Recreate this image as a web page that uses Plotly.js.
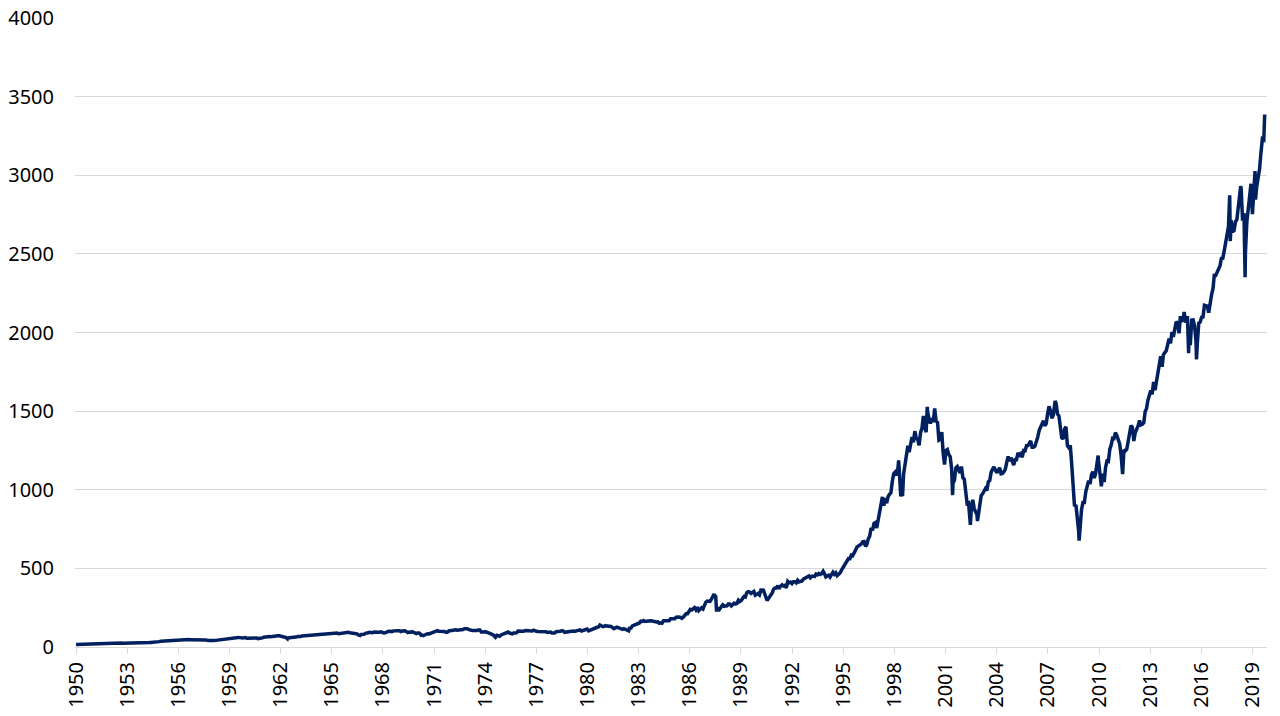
<!DOCTYPE html>
<html>
<head>
<meta charset="utf-8">
<script src="https://cdn.plot.ly/plotly-3.0.1.min.js"></script>
<style>
html,body{margin:0;padding:0;background:#fff;}
#chart{width:1280px;height:716px;}
</style>
</head>
<body>
<div id="chart"></div>
<script>
// Approximate month-end index levels (Jan..Dec per year)
const sp1950s = [
17.05,17.22,17.29,18.07,18.78,17.69,17.84,18.42,19.45,19.53,19.51,20.41,
21.66,21.80,21.40,22.43,21.52,20.96,22.40,23.28,23.26,22.94,22.88,23.77,
24.14,23.26,24.37,23.32,23.86,24.96,25.40,25.03,24.54,24.52,25.66,26.57,
26.38,25.90,25.29,24.62,24.54,24.14,24.75,23.32,23.35,24.54,24.76,24.81,
26.08,26.15,26.94,28.26,29.19,29.21,30.88,29.83,32.31,31.68,34.24,35.98,
36.63,36.76,36.58,37.96,37.91,41.03,43.52,43.18,43.67,42.34,45.51,45.48,
43.82,45.34,48.48,48.38,45.20,46.97,49.39,47.51,45.35,45.58,45.08,46.67,
44.72,43.26,44.11,45.74,47.43,47.37,47.91,45.22,42.42,41.06,41.72,39.99,
41.70,40.84,42.10,43.44,44.09,45.24,47.19,47.75,50.06,51.33,52.48,55.21,
55.42,55.41,55.44,57.59,58.68,58.47,60.51,59.60,56.88,57.52,58.28,59.89];
const sp1960s = [
55.61,56.12,55.34,54.37,55.83,56.92,55.51,56.96,53.52,53.39,55.54,58.11,
61.78,63.44,65.06,65.31,66.56,64.64,66.76,68.07,66.73,68.62,71.32,71.55,
68.84,69.96,69.55,65.24,59.63,54.75,58.23,59.12,56.27,56.52,62.26,63.10,
66.20,64.29,66.57,69.80,70.80,69.37,69.13,72.50,71.70,74.01,73.23,75.02,
77.04,77.80,78.98,79.46,80.37,81.69,83.18,81.83,84.18,84.86,84.42,84.75,
87.56,87.43,86.16,89.11,88.42,84.12,85.25,87.17,89.96,92.42,91.61,92.43,
92.88,91.22,89.23,91.06,86.13,84.74,83.60,77.10,76.56,80.20,80.45,80.33,
86.61,86.78,90.20,94.01,89.08,90.64,94.75,93.64,96.71,93.30,94.00,96.47,
92.24,89.36,90.20,97.59,98.68,99.58,97.74,98.86,102.67,103.41,108.37,103.86,
103.01,98.13,101.51,103.69,103.46,97.71,91.83,95.51,93.12,97.24,93.81,92.06];
const sp1970s = [
85.02,89.50,89.63,81.52,76.55,72.72,78.05,81.52,84.21,83.25,87.20,92.15,
95.88,96.75,100.31,103.95,99.63,99.70,95.58,99.03,98.34,94.23,93.99,102.09,
103.94,106.57,107.20,107.67,109.53,107.14,107.39,111.09,110.55,111.58,116.67,118.05,
116.03,111.68,111.52,106.97,104.95,104.26,108.22,104.25,108.43,108.29,95.96,97.55,
96.57,96.22,93.98,90.31,87.28,86.00,79.31,72.15,63.54,73.90,69.97,68.56,
76.98,81.59,83.36,87.30,91.15,95.19,88.75,86.88,83.87,89.04,91.24,90.19,
100.86,99.71,102.77,101.64,100.18,104.28,103.44,102.91,105.24,102.90,102.10,107.46,
102.03,99.82,98.42,98.44,96.12,100.48,98.85,96.77,96.53,92.34,94.83,95.10,
89.25,87.04,89.21,96.83,97.24,95.53,100.68,103.29,102.54,93.15,94.70,96.11,
99.93,96.28,101.59,101.76,99.08,102.91,103.81,109.32,109.32,101.82,106.16,107.94];
const sp1980s = [
114.16,113.66,102.09,106.29,111.24,114.24,121.67,122.38,125.46,127.47,140.52,135.76,
129.55,131.27,136.00,132.81,132.59,131.21,130.92,122.79,116.18,121.89,126.35,122.55,
120.40,113.11,111.96,116.44,111.88,109.61,107.09,119.51,120.42,133.71,138.54,140.64,
145.30,148.06,152.96,164.42,162.39,168.11,162.56,164.40,166.07,163.55,166.40,164.93,
163.41,157.06,159.18,160.05,150.55,153.18,150.66,166.68,166.10,166.09,163.58,167.24,
179.63,181.18,180.66,179.83,189.55,191.85,190.92,188.63,182.08,189.82,202.17,211.28,
211.78,226.92,238.90,235.52,247.35,250.84,236.12,252.93,231.32,243.98,249.22,242.17,
274.08,284.20,291.70,288.36,290.10,304.00,318.66,329.80,321.83,251.79,230.30,247.08,
257.07,267.82,258.89,261.33,262.16,273.50,272.02,261.52,271.91,278.97,273.70,277.72,
297.47,288.86,294.87,309.64,320.52,317.98,346.08,351.45,349.15,340.36,345.99,353.40];
const sp1990s = [
329.08,331.89,339.94,330.80,361.23,358.02,356.15,322.56,306.05,304.00,322.22,330.22,
343.93,367.07,375.22,375.34,389.83,371.16,387.81,395.43,387.86,392.46,375.22,417.09,
408.79,412.70,403.69,414.95,415.35,408.14,424.21,414.03,417.80,418.68,431.35,435.71,
438.78,443.38,451.67,440.19,450.19,450.53,448.13,463.56,458.93,467.83,461.79,466.45,
481.61,467.14,445.77,450.91,456.50,444.27,458.26,475.49,462.69,472.35,453.69,459.27,
470.42,487.39,500.71,514.71,533.40,544.75,562.06,561.88,584.41,581.50,605.37,615.93,
636.02,640.43,645.50,654.17,669.12,670.63,639.95,651.99,687.33,705.27,757.02,740.74,
786.16,790.82,757.12,801.34,848.28,885.14,954.31,899.47,947.28,914.62,955.40,970.43,
980.28,1049.34,1101.75,1111.75,1090.82,1133.84,1120.67,957.28,1017.01,1098.67,1163.63,1229.23,
1279.64,1238.33,1286.37,1335.18,1301.84,1372.71,1328.72,1320.41,1282.71,1362.93,1388.91,1469.25];
const sp2000s = [
1394.46,1366.42,1498.58,1452.43,1420.60,1454.60,1430.83,1517.68,1436.51,1429.40,1315.23,1320.28,
1366.01,1239.94,1160.33,1249.46,1255.82,1224.38,1211.23,1133.58,1040.94,1059.78,1139.45,1148.08,
1130.20,1106.73,1147.39,1076.92,1067.14,989.82,911.62,916.07,815.28,885.76,936.31,879.82,
855.70,841.15,848.18,916.92,963.59,974.50,990.31,1008.01,995.97,1050.71,1058.20,1111.92,
1131.13,1144.94,1126.21,1107.30,1120.68,1140.84,1101.72,1104.24,1114.58,1130.20,1173.82,1211.92,
1181.27,1203.60,1180.59,1156.85,1191.50,1191.33,1234.18,1220.33,1228.81,1207.01,1249.48,1248.29,
1280.08,1280.66,1294.87,1310.61,1270.09,1270.20,1276.66,1303.82,1335.85,1377.94,1400.63,1418.30,
1438.24,1406.82,1420.86,1482.37,1530.62,1503.35,1455.27,1473.99,1526.75,1549.38,1481.14,1468.36,
1378.55,1330.63,1322.70,1385.59,1400.38,1280.00,1267.38,1282.83,1166.36,968.75,896.24,903.25,
825.88,735.09,797.87,872.81,919.14,919.32,987.48,1020.62,1057.08,1036.19,1095.63,1115.10];
const sp2010s = [
1073.87,1104.49,1169.43,1186.69,1089.41,1030.71,1101.60,1049.33,1141.20,1183.26,1180.55,1257.64,
1286.12,1327.22,1325.83,1363.61,1345.20,1320.64,1292.28,1218.89,1131.42,1253.30,1246.96,1257.60,
1312.41,1365.68,1408.47,1397.91,1310.33,1362.16,1379.32,1406.58,1440.67,1412.16,1416.18,1426.19,
1498.11,1514.68,1569.19,1597.57,1630.74,1606.28,1685.73,1632.97,1681.55,1756.54,1805.81,1848.36,
1782.59,1859.45,1872.34,1883.95,1923.57,1960.23,1930.67,2003.37,1972.29,2018.05,2067.56,2058.90,
1994.99,2104.50,2067.89,2085.51,2107.39,2063.11,2103.84,1972.18,1920.03,2079.36,2080.41,2043.94,
1940.24,1932.23,2059.74,2065.30,2096.95,2098.86,2173.60,2170.95,2168.27,2126.15,2198.81,2238.83,
2278.87,2363.64,2362.72,2384.20,2411.80,2423.41,2470.30,2471.65,2519.36,2575.26,2647.58,2673.61,
2823.81,2713.83,2640.87,2648.05,2705.27,2718.37,2816.29,2901.52,2913.98,2711.74,2760.17,2506.85,
2704.10,2784.49,2834.40,2945.83,2752.06,2941.76,2980.38,2926.46,2976.74,3037.56,3140.98,3230.78];
const sp2020s = [3225.52];

// Intra-month highs and lows visible as spikes in the chart
const extremeDates = ["1950-01-03","1957-10-22","1962-06-26","1966-10-07","1970-05-26","1973-01-11",
"1974-10-03","1980-11-28","1982-08-12","1987-08-25","1987-10-19","1990-07-16","1990-10-11",
"1998-07-17","1998-10-08","2000-03-24","2001-09-21","2002-10-09","2003-03-11","2007-10-09",
"2009-03-09","2010-04-23","2010-07-02","2011-04-29","2011-10-03","2015-05-21","2015-08-25",
"2016-02-11","2018-01-26","2018-02-08","2018-09-20","2018-12-24","2019-07-26","2019-08-05","2020-02-19"];
const extremeValues = [16.66,38.98,52.32,73.20,69.29,120.24,
62.28,140.52,102.42,336.77,224.84,368.95,295.46,
1186.75,959.44,1527.46,965.80,776.76,800.73,1565.15,
676.53,1217.28,1022.58,1363.61,1099.23,2130.82,1867.61,
1829.08,2872.87,2581.00,2930.75,2351.10,3025.86,2844.74,3386.15];

const yTickVals = [0,500,1000,1500,2000,2500,3000,3500,4000];
const xTickLabels = [];
for (let y = 1950; y <= 2019; y += 3) xTickLabels.push(String(y));

// Build series
const decades = [[1950,sp1950s],[1960,sp1960s],[1970,sp1970s],[1980,sp1980s],[1990,sp1990s],[2000,sp2000s],[2010,sp2010s],[2020,sp2020s]];
let pts = [];
decades.forEach(([startYear, arr]) => {
  arr.forEach((v, i) => {
    const yr = startYear + Math.floor(i / 12), m = i % 12;
    pts.push([Date.UTC(yr, m + 1, 0), v]);
  });
});
extremeDates.forEach((d, i) => {
  const p = d.split("-").map(Number);
  pts.push([Date.UTC(p[0], p[1] - 1, p[2]), extremeValues[i]]);
});
pts.sort((a, b) => a[0] - b[0]);
const fmt = t => new Date(t).toISOString().slice(0, 10);
const xs = pts.map(p => fmt(p[0]));
const ys = pts.map(p => p[1]);

// Axis layout (calibrated to the reference picture)
const msPerYear = 365.25 * 86400000;
const pxPerYear = 16.95;
const msPerPx = msPerYear / pxPerYear;
const plotW = 1280 - 75 - 13;
const anchor = Date.UTC(1950, 0, 3);
const xStart = anchor - 1 * msPerPx;
const xEnd = xStart + plotW * msPerPx;
const tickStepMs = 51.15 * msPerPx;
const xTickVals = xTickLabels.map((_, k) => fmt(anchor + k * tickStepMs));

const font = {family: "'Noto Sans', 'Open Sans', sans-serif", size: 20, color: "#000"};

Plotly.newPlot("chart", [{
  x: xs, y: ys, type: "scatter", mode: "lines",
  line: {color: "#002060", width: 3.5},
  hoverinfo: "x+y"
}], {
  width: 1280, height: 716,
  margin: {l: 75, r: 13, t: 18, b: 69},
  paper_bgcolor: "#fff", plot_bgcolor: "#fff",
  showlegend: false,
  font: font,
  xaxis: {
    type: "date",
    range: [fmt(xStart), fmt(xEnd)],
    tickmode: "array", tickvals: xTickVals, ticktext: xTickLabels,
    tickangle: -90,
    ticks: "outside", ticklen: 6, tickcolor: "#d9d9d9", tickwidth: 1,
    showgrid: false, zeroline: false,
    showline: true, linecolor: "#d9d9d9", linewidth: 1,
    tickfont: font
  },
  yaxis: {
    range: [0, 4000],
    tickmode: "array", tickvals: yTickVals,
    showgrid: true, gridcolor: "#d9d9d9", gridwidth: 1,
    zeroline: false, showline: false,
    ticks: "", ticklabelstandoff: 20,
    tickfont: font
  }
}, {staticPlot: true});
</script>
</body>
</html>
